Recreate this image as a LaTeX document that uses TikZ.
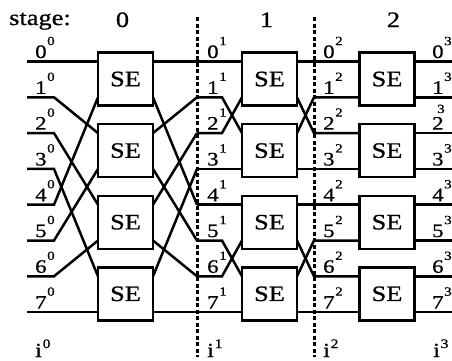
\documentclass[tikz,border=0pt]{standalone}
\usepackage{fontspec}
\setmainfont{Liberation Serif}[FakeStretch=1.2,FakeBold=0.8]
\newcommand\lblsup[2]{#1\hspace{0.6pt}\raisebox{0.68em}{\fontsize{12.5}{12.5}\selectfont #2}}
\newcommand\isup[1]{i\hspace{0.8pt}\raisebox{0.45em}{\fontsize{13}{13}\selectfont #1}}
\begin{document}
\begin{tikzpicture}[x=1pt,y=-1pt,
  sig/.style={line width=2.5pt},
  sebox/.style={draw,line width=2.4pt,fill=white,minimum width=55pt,minimum height=53pt,inner sep=0pt,font=\fontsize{22}{22}\selectfont},
  divider/.style={line width=3pt,dash pattern=on 4pt off 2.5pt},
  lab/.style={anchor=base west,inner sep=0pt,font=\fontsize{19}{19}\selectfont},
  sublab/.style={anchor=base west,inner sep=0pt,font=\fontsize{12.5}{12.5}\selectfont},
  ilab/.style={anchor=base west,inner sep=0pt,font=\fontsize{20}{20}\selectfont},
  stagelab/.style={anchor=base,inner sep=0pt,font=\fontsize{22}{22}\selectfont},
]
\useasboundingbox (0,0) rectangle (452,360);

% line positions
\foreach \k in {0,...,7} {
  \pgfmathsetmacro\yy{61.5+35.8*\k}
  \coordinate (a\k) at (27,\yy);
  \coordinate (b\k) at (54,\yy);
  \coordinate (p\k) at (98,\yy);
  \coordinate (q\k) at (153,\yy);
  \coordinate (c\k) at (197,\yy);
  \coordinate (e\k) at (222,\yy);
  \coordinate (m\k) at (242,\yy);
  \coordinate (n\k) at (297,\yy);
  \coordinate (f\k) at (314,\yy);
  \coordinate (u\k) at (359.5,\yy);
  \coordinate (v\k) at (414.5,\yy);
  \coordinate (z\k) at (452,\yy);
}

% dividers
\coordinate (d1top) at (197,17);
\coordinate (d1bot) at (197,357);
\coordinate (d2top) at (314,17);
\coordinate (d2bot) at (314,357);
\draw[divider] (d1top) -- (d1bot);
\draw[divider] (d2top) -- (d2bot);

% stage 0 inputs (perfect shuffle)
\foreach \k/\t in {0/0,1/2,2/4,3/6,4/1,5/3,6/5,7/7}
  \draw[sig] (a\k) -- (b\k) -- (p\t);
% stage 0 outputs
\foreach \k/\t in {0/0,1/4,2/1,3/5,4/2,5/6,6/3,7/7}
  \draw[sig] (q\k) -- (c\t);
% stage 1 inputs
\foreach \k/\t in {0/0,1/2,2/1,3/3,4/4,5/6,6/5,7/7}
  \draw[sig] (c\k) -- (e\k) -- (m\t);
% stage 1 outputs
\foreach \k/\t in {0/0,1/2,2/1,3/3,4/4,5/6,6/5,7/7}
  \draw[sig] (n\k) -- (f\t) -- (u\t);
% stage 2 outputs
\foreach \k in {0,...,7}
  \draw[sig] (v\k) -- (z\k);

% switching elements
\foreach \s/\xx in {0/125.5,1/269.5,2/387}
  \foreach \j in {0,...,3}
    \node[sebox] (se\s\j) at (\xx,{79+71.6*\j}) {SE};

% line labels
\foreach \k in {0,...,7} {
  \pgfmathsetmacro\yb{61.5+35.8*\k-3.5}
  \node[lab] (la\k) at (35,\yb) {\lblsup{\k}{0}};
  \node[lab] (lb\k) at (207,\yb) {\lblsup{\k}{1}};
  \node[lab] (lc\k) at (323,\yb) {\lblsup{\k}{2}};
}
\foreach \k in {0,1,3,4,5,6,7} {
  \pgfmathsetmacro\yb{61.5+35.8*\k-3.5}
  \node[lab] (ld\k) at (432,\yb) {\lblsup{\k}{3}};
}
\node[lab] (ld2) at (432,129.6) {2};
\node[sublab] (ld2s) at (437,113) {3};

% headings
\node[anchor=base west,inner sep=0pt,font=\fontsize{22}{22}\selectfont] (stg) at (9,25) {stage:};
\node[stagelab] (st0) at (122.5,27) {0};
\node[stagelab] (st1) at (266.5,27) {1};
\node[stagelab] (st2) at (393.5,27) {2};

% bottom labels
\node[ilab] (i0) at (35,357) {\isup{0}};
\node[ilab] (i1) at (207,357) {\isup{1}};
\node[ilab] (i2) at (323,357) {\isup{2}};
\node[ilab] (i3) at (433,357) {\isup{3}};
\end{tikzpicture}
\end{document}
